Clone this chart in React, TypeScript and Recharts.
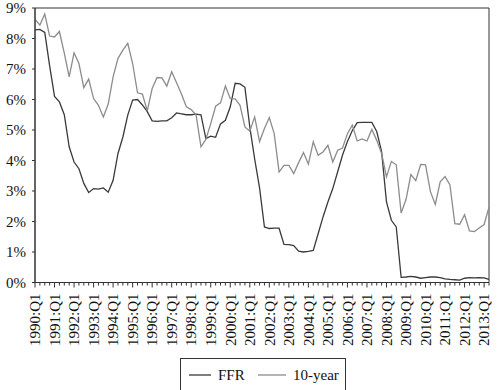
import React from 'react';
import { LineChart, Line, XAxis, YAxis, ReferenceArea } from 'recharts';

const years = [1990, 1991, 1992, 1993, 1994, 1995, 1996, 1997, 1998, 1999, 2000, 2001,
    2002, 2003, 2004, 2005, 2006, 2007, 2008, 2009, 2010, 2011, 2012, 2013];

// 1990:Q1 .. 2013:Q2
const quarters: string[] = [];
years.forEach(y => {
    for (let q = 1; q <= 4; q++) {
        if (y === 2013 && q > 2) break;
        quarters.push(`${y}:Q${q}`);
    }
});

const ffr = [
    8.28, 8.30, 8.20, 7.10,
    6.10, 5.92, 5.50, 4.45,
    3.95, 3.73, 3.25, 2.95,
    3.08, 3.06, 3.10, 2.96,
    3.35, 4.23, 4.77, 5.49,
    5.98, 6.00, 5.82, 5.60,
    5.30, 5.28, 5.30, 5.30,
    5.40, 5.56, 5.53, 5.50,
    5.50, 5.52, 5.50, 4.72,
    4.80, 4.76, 5.20, 5.32,
    5.76, 6.53, 6.51, 6.40,
    5.10, 4.05, 3.10, 1.82,
    1.77, 1.78, 1.78, 1.25,
    1.24, 1.21, 1.03, 1.00,
    1.02, 1.05, 1.60, 2.15,
    2.64, 3.08, 3.63, 4.18,
    4.62, 4.98, 5.24, 5.25,
    5.25, 5.25, 4.95, 4.29,
    2.64, 2.04, 1.82, 0.17,
    0.18, 0.20, 0.18, 0.14,
    0.16, 0.18, 0.18, 0.16,
    0.12, 0.10, 0.09, 0.08,
    0.14, 0.16, 0.15, 0.16,
    0.15, 0.10,
];

const tenYear = [
    8.63, 8.44, 8.80, 8.08,
    8.05, 8.23, 7.52, 6.74,
    7.53, 7.18, 6.39, 6.67,
    6.03, 5.81, 5.43, 5.85,
    6.74, 7.35, 7.62, 7.84,
    7.18, 6.22, 6.18, 5.63,
    6.36, 6.72, 6.71, 6.44,
    6.91, 6.55, 6.18, 5.76,
    5.67, 5.49, 4.45, 4.69,
    5.21, 5.78, 5.89, 6.44,
    6.03, 6.02, 5.81, 5.10,
    4.96, 5.43, 4.62, 5.05,
    5.41, 4.88, 3.62, 3.84,
    3.84, 3.57, 3.93, 4.26,
    3.88, 4.61, 4.17, 4.28,
    4.50, 3.95, 4.34, 4.41,
    4.88, 5.16, 4.64, 4.71,
    4.64, 5.02, 4.66, 4.23,
    3.46, 3.97, 3.86, 2.28,
    2.72, 3.54, 3.34, 3.87,
    3.86, 2.98, 2.56, 3.30,
    3.47, 3.20, 1.93, 1.91,
    2.22, 1.69, 1.67, 1.79,
    1.90, 2.47,
];

const yTicks = [0, 1, 2, 3, 4, 5, 6, 7, 8, 9];
const seriesNames = ['FFR', '10-year'];
const seriesColors = ['#3a3a3a', '#8c8c8c'];

const data = quarters.map((q, i) => ({ q, ffr: ffr[i], tenYear: tenYear[i] }));

const FONT = '"Liberation Serif", "DejaVu Serif", serif';
const AXIS = '#333';

const QuarterTick = ({ x, y, payload }: any) => {
    const label: string = payload.value;
    const major = label.endsWith('Q1');
    return (
        <g>
            <line x1={x} x2={x} y1={y} y2={y + (major ? 5 : 3)} stroke={AXIS} strokeWidth={1} />
            {major && (
                <text
                    transform={`translate(${x},${y + 11}) rotate(-90)`}
                    textAnchor="end"
                    dy="0.35em"
                    fontSize={15}
                    fontFamily={FONT}
                    fill="#111"
                >
                    {label}
                </text>
            )}
        </g>
    );
};

export default function App() {
    return (
        <div style={{ position: 'absolute', left: 0, top: 0, width: 500, height: 390, overflow: 'hidden', background: '#fff' }}>
            <LineChart width={500} height={390} data={data} margin={{ top: 8, right: 11, bottom: 0, left: 0 }}>
                <XAxis
                    dataKey="q"
                    interval={0}
                    height={107.5}
                    tickLine={false}
                    tickSize={0}
                    tickMargin={0}
                    axisLine={{ stroke: AXIS }}
                    tick={<QuarterTick />}
                />
                <YAxis
                    width={35}
                    domain={[0, 9]}
                    ticks={yTicks}
                    interval={0}
                    tickFormatter={(v: number) => `${v}%`}
                    tickSize={3}
                    tickMargin={6}
                    tickLine={{ stroke: AXIS }}
                    axisLine={{ stroke: AXIS }}
                    tick={{ fill: '#111', fontSize: 15, fontFamily: FONT }}
                />
                <ReferenceArea
                    x1={quarters[0]}
                    x2={quarters[quarters.length - 1]}
                    y1={0}
                    y2={9}
                    fill="none"
                    stroke={AXIS}
                    strokeWidth={1}
                />
                <Line type="linear" dataKey="ffr" name={seriesNames[0]} stroke={seriesColors[0]} strokeWidth={1.3} dot={false} isAnimationActive={false} />
                <Line type="linear" dataKey="tenYear" name={seriesNames[1]} stroke={seriesColors[1]} strokeWidth={1.3} dot={false} isAnimationActive={false} />
            </LineChart>

            {/* legend box, cut off by the bottom edge like the original */}
            <div style={{ position: 'absolute', left: 180, top: 358, width: 166, height: 45, border: `1px solid ${AXIS}`, boxSizing: 'border-box' }}>
                <svg width={164} height={30} style={{ display: 'block' }}>
                    <line x1={8} x2={30} y1={16} y2={16} stroke={seriesColors[0]} strokeWidth={1.3} />
                    <text x={37} y={21} fontSize={15} fontFamily={FONT} fill="#111">{seriesNames[0]}</text>
                    <line x1={77} x2={105} y1={16} y2={16} stroke={seriesColors[1]} strokeWidth={1.3} />
                    <text x={112} y={21} fontSize={15} fontFamily={FONT} fill="#111">{seriesNames[1]}</text>
                </svg>
            </div>
        </div>
    );
}
